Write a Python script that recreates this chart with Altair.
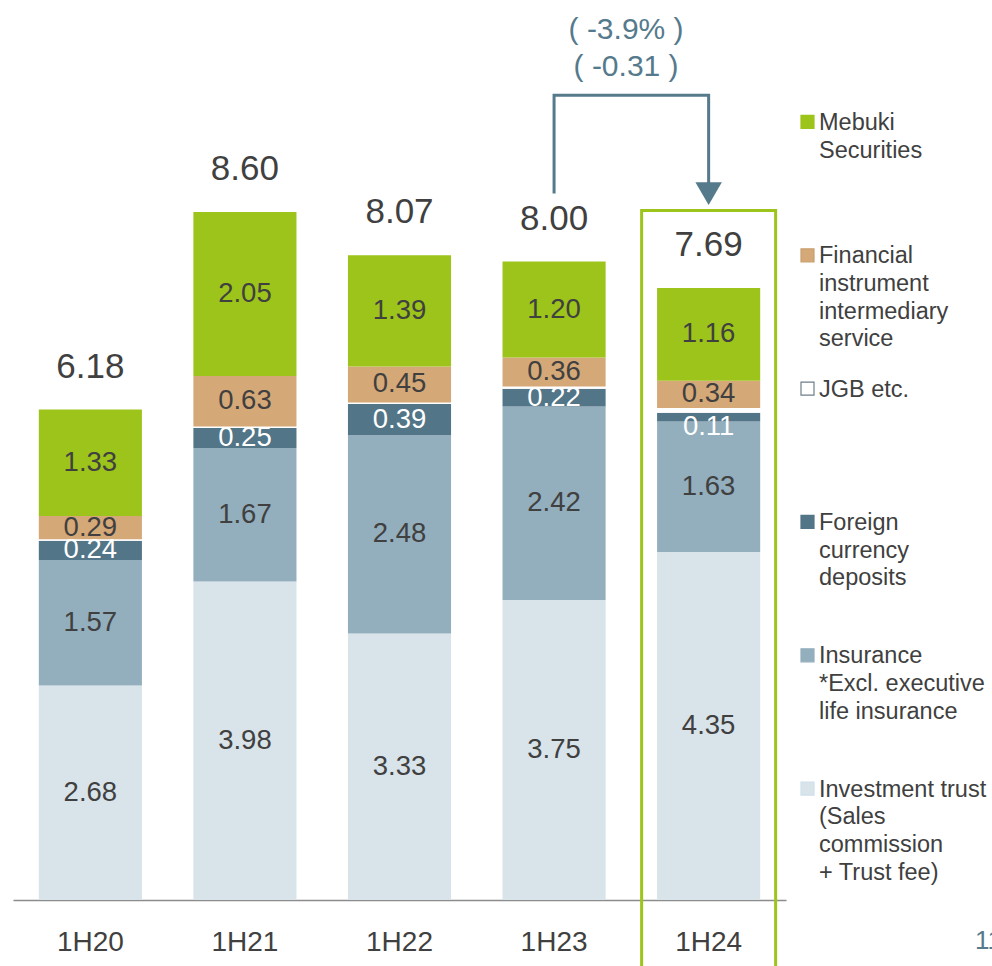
import altair as alt
import pandas as pd

# ---------------- data ----------------
periods = ["1H20", "1H21", "1H22", "1H23", "1H24"]
totals = [6.18, 8.60, 8.07, 8.00, 7.69]
investment_trust = [2.68, 3.98, 3.33, 3.75, 4.35]
insurance = [1.57, 1.67, 2.48, 2.42, 1.63]
foreign_currency = [0.24, 0.25, 0.39, 0.22, 0.11]
jgb = [0.02, 0.02, 0.02, 0.03, 0.06]
financial = [0.29, 0.63, 0.45, 0.36, 0.34]
mebuki = [1.33, 2.05, 1.39, 1.20, 1.16]

categories = ["Investment trust", "Insurance", "Foreign currency deposits",
              "JGB etc.", "Financial instrument intermediary service", "Mebuki Securities"]
colors = ["#D9E3EA", "#93AEBD", "#527587", "#FFFFFF", "#D5A878", "#9DC41A"]
label_colors = ["#404040", "#404040", "#FFFFFF", "#404040", "#404040", "#404040"]
legend_names = ["Mebuki\nSecurities",
                "Financial\ninstrument\nintermediary\nservice",
                "JGB etc.",
                "Foreign\ncurrency\ndeposits",
                "Insurance\n*Excl. executive\nlife insurance",
                "Investment trust\n(Sales\ncommission\n+ Trust fee)"]
legend_cats = ["Mebuki Securities", "Financial instrument intermediary service", "JGB etc.",
               "Foreign currency deposits", "Insurance", "Investment trust"]

series = [investment_trust, insurance, foreign_currency, jgb, financial, mebuki]

DARK = "#404040"
ACCENT = "#557A8C"
GREEN = "#9DC41A"
FONT = "Liberation Sans"

rows = []
tops = []
for i, p in enumerate(periods):
    base = 0.0
    for k, (c, s) in enumerate(zip(categories, series)):
        v = s[i]
        mid = base + v / 2
        if v < 0.15:  # very thin segment: label sits just below it
            mid -= 0.12
        rows.append(dict(period=p, cat=c, order=k, y0=base, y1=base + v, mid=mid,
                         label=f"{v:.2f}", lc=label_colors[k], show=(c != "JGB etc.")))
        base += v
    tops.append(base)
df = pd.DataFrame(rows)

tot_df = pd.DataFrame(dict(period=periods, top=tops, label=[f"{t:.2f}" for t in totals]))

# comparison annotation (1H23 -> 1H24)
prev, cur = totals[3], totals[4]
diff = cur - prev
pct = diff / prev * 100
bracket_level = 10.06
br_df = pd.DataFrame(dict(
    period=[periods[3], periods[3], periods[4], periods[4]],
    y=[tops[3] + 0.85, bracket_level, bracket_level, tops[4] + 1.18],
    o=[0, 1, 2, 3]))
arrow_df = pd.DataFrame(dict(period=[periods[4]], y=[tops[4] + 1.18]))
ann_df = pd.DataFrame(dict(period=[periods[3], periods[3]],
                           y=[bracket_level + 0.82, bracket_level + 0.35],
                           text=[f"( {pct:.1f}% )", f"( {diff:.2f} )"]))
hl_df = pd.DataFrame(dict(period=[periods[4]], y=[tops[4] + 0.97], y2=[-1.0]))

leg_df = pd.DataFrame(dict(idx=list(range(6)), name=legend_names, cat=legend_cats,
                           sc=["#9DC41A", "#C9A070", "#6E7F8A", "#527587", "#93AEBD", "#CFE0EC"]))

# ---------------- scales ----------------
xs = alt.Scale(domain=periods, paddingInner=0.333, paddingOuter=0.167)
ys = alt.Scale(domain=[0, 11], nice=False, zero=False)
cs = alt.Scale(domain=categories, range=colors)

x_axis = alt.Axis(title=None, labelFontSize=28, labelColor=DARK, labelFont=FONT,
                  domainColor="#8C8C8C", domainWidth=1.5, ticks=False,
                  labelPadding=42, labelBaseline="middle", labelAlign="center", labelAngle=0)


def X():
    return alt.X("period:N", scale=xs, sort=periods, axis=x_axis)


bars = alt.Chart(df).mark_bar().encode(
    x=X(),
    y=alt.Y("y0:Q", scale=ys, axis=None),
    y2="y1:Q",
    color=alt.Color("cat:N", scale=cs, legend=None),
)

seg_labels = alt.Chart(df).transform_filter("datum.show").mark_text(
    fontSize=27.5, font=FONT, baseline="middle", align="center"
).encode(
    x=X(),
    y=alt.Y("mid:Q", scale=ys, axis=None),
    text="label:N",
    color=alt.Color("lc:N", scale=None),
)

total_labels = alt.Chart(tot_df).mark_text(
    fontSize=35, font=FONT, baseline="alphabetic", align="center", dy=-32, color=DARK
).encode(
    x=X(),
    y=alt.Y("top:Q", scale=ys, axis=None),
    text="label:N",
)

highlight = alt.Chart(hl_df).mark_bar(
    size=134, fillOpacity=0, stroke=GREEN, strokeWidth=3
).encode(
    x=X(),
    y=alt.Y("y:Q", scale=ys, axis=None),
    y2="y2:Q",
)

bracket = alt.Chart(br_df).mark_line(color=ACCENT, strokeWidth=3).encode(
    x=X(),
    y=alt.Y("y:Q", scale=ys, axis=None),
    order="o:Q",
)

arrow = alt.Chart(arrow_df).mark_point(
    shape="triangle-down", filled=True, size=700, color=ACCENT, opacity=1
).encode(
    x=X(),
    y=alt.Y("y:Q", scale=ys, axis=None),
)

ann = alt.Chart(ann_df).mark_text(
    fontSize=30, font=FONT, color=ACCENT, baseline="middle", align="center", dx=72
).encode(
    x=X(),
    y=alt.Y("y:Q", scale=ys, axis=None),
    text="text:N",
)

main = alt.layer(highlight, bars, seg_labels, total_labels, bracket, arrow, ann)

ls = alt.Scale(type="point", padding=0.8, align=0.478)
leg_sq = alt.Chart(leg_df).mark_square(size=169, opacity=1, filled=True, strokeWidth=1.2).encode(
    x=alt.value(794.5),
    y=alt.Y("idx:O", scale=ls, axis=None),
    color=alt.Color("cat:N", scale=cs, legend=None),
    stroke=alt.Stroke("sc:N", scale=None),
)
leg_txt = alt.Chart(leg_df).mark_text(
    align="left", baseline="alphabetic", dy=8, fontSize=23.5, lineHeight=27.7,
    lineBreak="\n", font=FONT, color=DARK
).encode(
    x=alt.value(806),
    y=alt.Y("idx:O", scale=ls, axis=None),
    text="name:N",
)
page_no = alt.Chart(pd.DataFrame(dict(t=["11"]))).mark_text(
    align="left", baseline="middle", fontSize=26, font=FONT, color=ACCENT
).encode(x=alt.value(962), y=alt.value(921), text="t:N")

legend = alt.layer(leg_sq, leg_txt, page_no)

chart = alt.layer(main, legend).resolve_scale(y="independent").properties(
    width=773, height=880,
    autosize=alt.AutoSizeParams(type="none"),
    padding={"left": 13, "top": 20, "right": 206, "bottom": 66},
).configure(font=FONT, background="white").configure_view(stroke=None, strokeWidth=0)

chart.save("out.html", embed_options={"renderer": "svg", "actions": False})
